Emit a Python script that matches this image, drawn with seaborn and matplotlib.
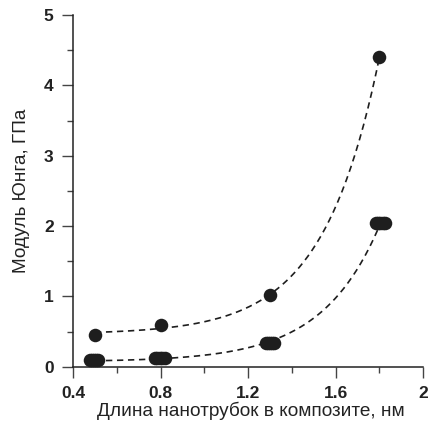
import numpy as np
import pandas as pd
import matplotlib
matplotlib.use("Agg")
import matplotlib.pyplot as plt
import seaborn as sns
from matplotlib.ticker import MultipleLocator

# --- data ---
upper_x = [0.50, 0.80, 1.30, 1.80]
upper_y = [0.45, 0.59, 1.02, 4.40]

lower_x = [0.475, 0.485, 0.495, 0.505, 0.515,
           0.775, 0.785, 0.795, 0.805, 0.818,
           1.28, 1.29, 1.30, 1.31, 1.32,
           1.785, 1.795, 1.805, 1.815, 1.825]
lower_y = [0.09, 0.09, 0.09, 0.09, 0.09,
           0.12, 0.12, 0.12, 0.12, 0.12,
           0.34, 0.34, 0.34, 0.34, 0.34,
           2.05, 2.05, 2.05, 2.05, 2.05]

x_ticks = [0.4, 0.8, 1.2, 1.6, 2.0]
x_tick_labels = ["0.4", "0.8", "1.2", "1.6", "2"]
y_ticks = [0, 1, 2, 3, 4, 5]
y_tick_labels = ["0", "1", "2", "3", "4", "5"]

x_label = "Длина нанотрубок в композите, нм"
y_label = "Модуль Юнга, ГПа"


def exp_fit(x, y):
    """Least-squares fit y = y0 + A*exp(x/t) (grid over t)."""
    x = np.asarray(x, float)
    y = np.asarray(y, float)
    best = None
    for t in np.linspace(0.05, 2.0, 4000):
        M = np.column_stack([np.ones_like(x), np.exp(x / t)])
        coef, *_ = np.linalg.lstsq(M, y, rcond=None)
        err = np.sum((M @ coef - y) ** 2)
        if best is None or err < best[0]:
            best = (err, t, coef)
    _, t, coef = best
    return lambda xx: coef[0] + coef[1] * np.exp(np.asarray(xx) / t)


sns.set_theme(style="white")
plt.rcParams['font.family'] = ['Liberation Sans', 'DejaVu Sans']

fig = plt.figure(figsize=(4.30, 4.21), dpi=100)
ax = fig.add_axes([0.170, 0.129, 0.814, 0.835])

dark = "#1e1e1e"

xs = np.linspace(0.5, 1.8, 200)
f_up = exp_fit(upper_x, upper_y)
f_lo = exp_fit(lower_x, lower_y)
curves = pd.DataFrame({
    "x": np.concatenate([xs, xs]),
    "y": np.concatenate([f_up(xs), f_lo(xs)]),
    "series": ["upper"] * len(xs) + ["lower"] * len(xs),
})
sns.lineplot(data=curves, x="x", y="y", units="series", estimator=None,
             color=dark, lw=1.2, ax=ax, zorder=2)
for line in ax.lines:
    line.set_linestyle((0, (3.8, 2.8)))

pts = pd.DataFrame({
    "x": upper_x + lower_x,
    "y": upper_y + lower_y,
})
sns.scatterplot(data=pts, x="x", y="y", s=95, color=dark, edgecolor=dark,
                linewidth=0, ax=ax, zorder=3, clip_on=False)

ax.set_xlim(0.4, 2.0)
ax.set_ylim(0, 5)
ax.set_xticks(x_ticks)
ax.set_xticklabels(x_tick_labels)
ax.set_yticks(y_ticks)
ax.set_yticklabels(y_tick_labels)
ax.xaxis.set_minor_locator(MultipleLocator(0.2))
ax.yaxis.set_minor_locator(MultipleLocator(0.5))

for s in ["top", "right"]:
    ax.spines[s].set_visible(False)
for s in ["left", "bottom"]:
    ax.spines[s].set_color("#222222")
    ax.spines[s].set_linewidth(1.1)

ax.tick_params(which="major", direction="out", length=8, width=1.0,
               color="#444444", labelsize=12.5, labelcolor="#222222",
               bottom=True, left=True)
ax.tick_params(axis="y", which="major", pad=6)
ax.tick_params(axis="x", which="major", pad=6)
ax.tick_params(which="minor", direction="out", length=4.3, width=1.0,
               color="#444444", bottom=True, left=True)
for lab in ax.get_xticklabels() + ax.get_yticklabels():
    lab.set_fontweight("bold")

ax.set_xlabel(x_label, fontsize=13.7, color="#222222")
ax.set_ylabel(y_label, fontsize=13.7, color="#222222", labelpad=10)
ax.xaxis.set_label_coords(0.509, -0.100)

fig.savefig("out.png", dpi=100)
